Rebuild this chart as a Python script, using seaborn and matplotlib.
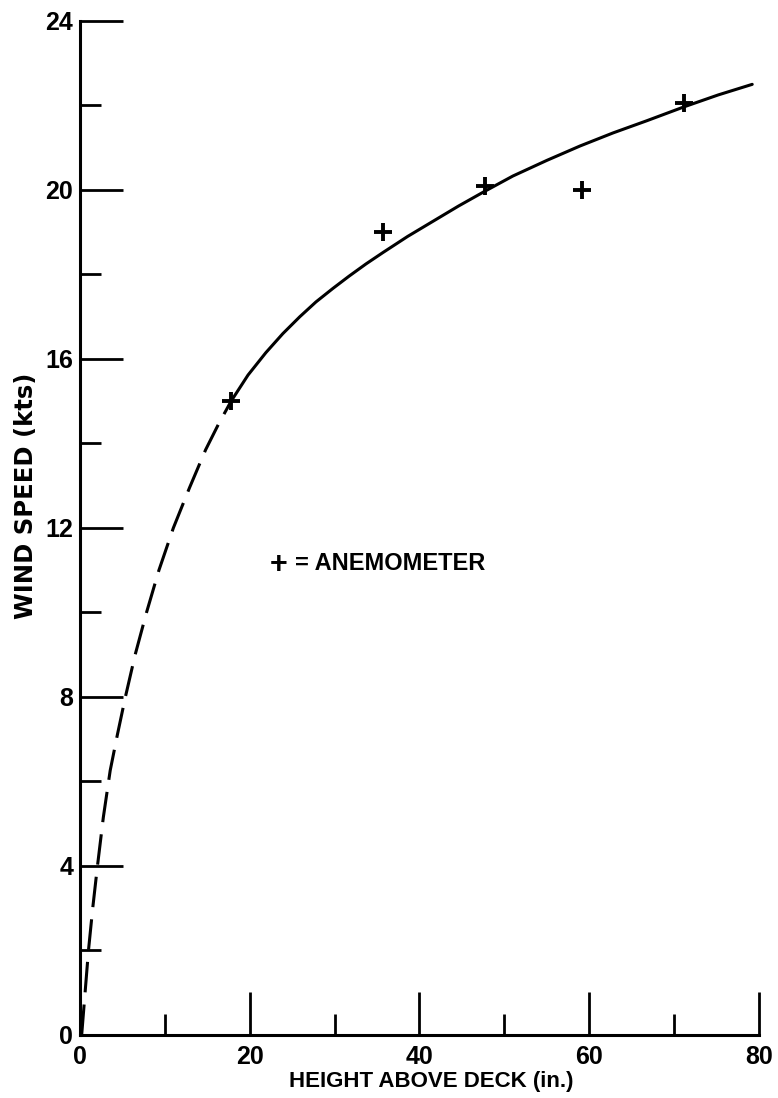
"""
Wind speed profile above deck: anemometer readings and the fitted curve
(dashed below the lowest reading).
"""

import matplotlib
matplotlib.use("Agg")
import matplotlib.pyplot as plt
from matplotlib.ticker import MultipleLocator
import seaborn as sns

# anemometer readings
anem_height = [17.8, 35.7, 47.7, 59.1, 71.2]
anem_speed = [15.0, 19.0, 20.1, 20.0, 22.05]

# curve, dashed part near the deck
dash_height = [0.2, 0.6, 1.0, 1.5, 2.06, 2.75, 3.56, 4.4, 5.35, 6.5, 7.84,
               9.3, 11.0, 12.9, 14.8, 16.3, 17.8]
dash_speed = [0.0, 1.0, 2.0, 3.0, 4.0, 5.15, 6.26, 7.1, 8.0, 9.0, 10.0,
              11.0, 12.0, 12.95, 13.85, 14.45, 15.0]

# solid part of the curve
solid_height = [17.8, 19.8, 21.9, 23.9, 25.9, 27.8, 29.8, 31.7, 33.7, 35.7, 38.6,
                41.6, 44.6, 47.7, 51.0, 55.0, 58.9, 62.8, 66.8, 71.2, 75.2, 79.2]
solid_speed = [15.0, 15.62, 16.15, 16.6, 17.0, 17.35, 17.67, 17.96, 18.25, 18.52, 18.9,
               19.26, 19.62, 19.97, 20.33, 20.7, 21.04, 21.35, 21.64, 21.97, 22.25, 22.5]

x_ticks = [0, 20, 40, 60, 80]
y_ticks = [0, 4, 8, 12, 16, 20, 24]


def main():
    sns.set_theme(style="ticks")
    plt.rcParams['font.family'] = ['Liberation Sans', 'DejaVu Sans']
    plt.rcParams['font.weight'] = 'bold'

    fig = plt.figure(figsize=(7.78, 10.98), dpi=100)
    ax = fig.add_axes([0.1028, 0.0574, 0.8728, 0.9235])

    lw = 2.2
    sns.lineplot(x=dash_height, y=dash_speed, ax=ax, sort=False, estimator=None,
                 color='black', lw=lw, linestyle=(0, (10, 4)))
    sns.lineplot(x=solid_height, y=solid_speed, ax=ax, sort=False, estimator=None,
                 color='black', lw=lw)
    sns.scatterplot(x=anem_height, y=anem_speed, ax=ax, marker='+', s=150,
                    color='black', linewidth=2.8, zorder=5)

    # key: "+ = ANEMOMETER"
    ax.text(23.4, 10.93, "+", fontsize=22, fontweight='bold',
            va='baseline', ha='center', color='black')
    ax.text(25.3, 11.17, "= ANEMOMETER", fontsize=17, fontweight='bold',
            va='center', ha='left', color='black')

    ax.set_xlim(0, 80)
    ax.set_ylim(0, 24)
    ax.set_xticks(x_ticks)
    ax.set_yticks(y_ticks)
    ax.xaxis.set_minor_locator(MultipleLocator(10))
    ax.yaxis.set_minor_locator(MultipleLocator(2))
    ax.tick_params(which='major', direction='in', length=31, width=2.0,
                   labelsize=18, color='black', labelcolor='black')
    ax.tick_params(axis='x', which='major', pad=7)
    ax.tick_params(axis='y', which='major', pad=5)
    ax.tick_params(which='minor', direction='in', length=15, width=2.0, color='black')

    for side in ['top', 'right']:
        ax.spines[side].set_visible(False)
    for side in ['left', 'bottom']:
        ax.spines[side].set_linewidth(2.2)
        ax.spines[side].set_color('black')

    ax.set_xlabel("HEIGHT ABOVE DECK (in.)", fontsize=16, fontweight='bold', color='black')
    ax.set_ylabel("WIND SPEED (kts)", fontsize=17.5, fontweight='bold', color='black',
                  family=['DejaVu Sans'])
    ax.xaxis.set_label_coords(0.517, -0.036)
    ax.yaxis.set_label_coords(-0.062, 0.5316)

    fig.savefig('out.png', dpi=100)


if __name__ == "__main__":
    main()
